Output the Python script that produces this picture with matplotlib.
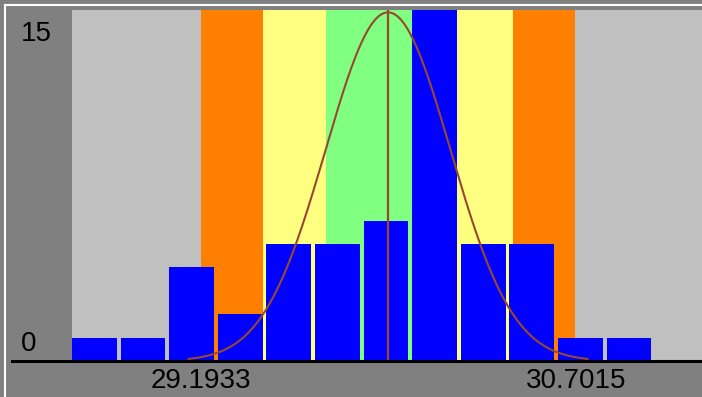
import numpy as np
import matplotlib
matplotlib.use("Agg")
import matplotlib.pyplot as plt
from matplotlib.lines import Line2D

# limits shown under the axis (mean -/+ 3 sigma)
lo_label = "29.1933"
hi_label = "30.7015"
lo_val = 29.1933
hi_val = 30.7015

# histogram counts, left to right
counts = [1, 1, 4, 2, 5, 5, 6, 15, 5, 5, 1, 1]
bin_start = 28.673
bin_width = 0.196

x_min, x_max = 28.673, 31.2135
y_max = 15
curve_peak = 14.9
y_ticks = ["0", "15"]

mean = (lo_val + hi_val) / 2
sd = (hi_val - lo_val) / 6

W, H = 702, 397
fig = plt.figure(figsize=(W / 100, H / 100), dpi=100, facecolor="#808080")
ax = fig.add_axes([72 / W, (H - 361) / H, (W - 72) / W, (361 - 10) / H])
ax.set_xlim(x_min, x_max)
ax.set_ylim(0, y_max)
ax.axis("off")
ax.add_patch(plt.Rectangle((0, 0), 1, 1, transform=ax.transAxes,
                           color="#C0C0C0", zorder=0))

# sigma zones
zones = [(-3, -2, "#FF8000"), (-2, -1, "#FFFF80"), (-1, 1, "#80FF80"),
         (1, 2, "#FFFF80"), (2, 3, "#FF8000")]
for a, b, c in zones:
    ax.axvspan(mean + a * sd, mean + b * sd, color=c, lw=0, zorder=1)

lefts = bin_start + np.arange(len(counts)) * bin_width
ax.bar(lefts, counts, width=bin_width * 0.92, align="edge",
       color="#0000FF", lw=0, zorder=2)

# fitted normal curve + mean line
xs = np.linspace(mean - 3.2 * sd, mean + 3.2 * sd, 400)
ax.plot(xs, curve_peak * np.exp(-0.5 * ((xs - mean) / sd) ** 2),
        color="#984830", lw=1.5, zorder=3)
ax.axvline(mean, color="#984830", lw=1.6, zorder=3)

# frame lines (pixel coords -> figure fraction)
def fx(px):
    return px / W

def fy(py):
    return 1 - py / H

fig.add_artist(Line2D([fx(5), fx(5)], [fy(5), fy(H)], color="white", lw=1.5))
fig.add_artist(Line2D([fx(5), fx(W)], [fy(5), fy(5)], color="white", lw=1.5))
fig.add_artist(Line2D([fx(12), fx(W)], [fy(361), fy(361)], color="black", lw=2.2))

font = ["Liberation Sans", "DejaVu Sans"]
fs = 20
fig.text(fx(21), fy(34), y_ticks[1], ha="left", va="center", fontsize=fs,
         family=font, color="black")
fig.text(fx(21), fy(344), y_ticks[0], ha="left", va="center", fontsize=fs,
         family=font, color="black")
fig.text(fx(201), fy(381), lo_label, ha="center", va="center", fontsize=fs,
         family=font, color="black")
fig.text(fx(576), fy(381), hi_label, ha="center", va="center", fontsize=fs,
         family=font, color="black")

fig.savefig("out.png", dpi=100, facecolor=fig.get_facecolor())
